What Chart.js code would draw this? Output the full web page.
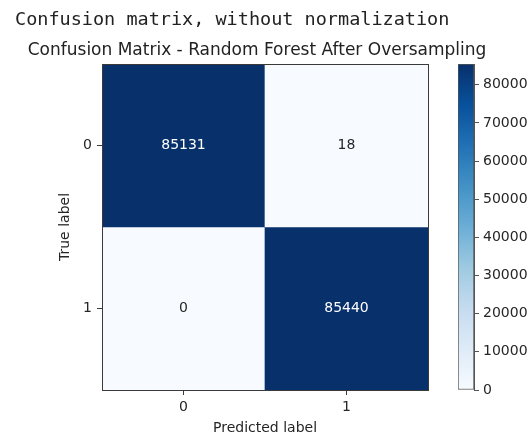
<!DOCTYPE html>
<html>
<head>
<meta charset="utf-8">
<title>Confusion Matrix - Random Forest After Oversampling</title>
<script src="https://cdn.jsdelivr.net/npm/chart.js@4.4.0/dist/chart.umd.min.js"></script>
<style>
  html, body { margin: 0; padding: 0; background: #fff; }
  #page { position: relative; width: 530px; height: 437px; overflow: hidden; }
  #header { position: absolute; left: 15px; top: 8px; font: 18.5px/22px 'DejaVu Sans Mono', monospace; color: #222; white-space: pre; }
  #cm { position: absolute; left: 0; top: 0; }
  #cbar { position: absolute; left: 440px; top: 0; }
</style>
</head>
<body>
<div id="page">
  <canvas id="cm" width="530" height="437"></canvas>
  <canvas id="cbar" width="90" height="437"></canvas>
  <div id="header">Confusion matrix, without normalization</div>
</div>
<script>
// rows = true label, columns = predicted label
var xLabels = ['0', '1'];
var yLabels = ['0', '1'];
var row0 = [85131, 18];
var row1 = [0, 85440];
var cbTicks = [0, 10000, 20000, 30000, 40000, 50000, 60000, 70000, 80000];

// matplotlib "Blues"
var bluesStops = ['#f7fbff', '#deebf7', '#c6dbef', '#9ecae1', '#6baed6', '#4292c6', '#2171b5', '#08519c', '#08306b'];

function hexRgb(h){
	return [parseInt(h.substr(1,2),16), parseInt(h.substr(3,2),16), parseInt(h.substr(5,2),16)];
}
function blues(t){
	t = Math.max(0, Math.min(1, t));
	var pos = t * (bluesStops.length - 1);
	var i = Math.min(Math.floor(pos), bluesStops.length - 2);
	var f = pos - i;
	var a = hexRgb(bluesStops[i]), b = hexRgb(bluesStops[i+1]);
	var c = a.map(function(v, k){ return Math.round(v + (b[k] - v) * f); });
	return 'rgb(' + c.join(',') + ')';
}

var rows = [row0, row1];
var vmax = Math.max.apply(null, row0.concat(row1));
var txt = '#262626';
var axisCol = '#3a3a3a';

Chart.defaults.font.family = "'DejaVu Sans', sans-serif";
Chart.defaults.font.size = 14;
Chart.defaults.color = txt;

var datasets = rows.map(function(row, r){
	return {
		data: row.map(function(v, c){ return {x: xLabels[c], y: [r - 0.5, r + 0.5], v: v}; }),
		backgroundColor: row.map(function(v){ return blues(v / vmax); }),
		borderWidth: 0,
		grouped: false,
		barPercentage: 1,
		categoryPercentage: 1
	};
});

// value written in the middle of each cell
var cellText = {
	id: 'cellText',
	afterDatasetsDraw: function(chart){
		var ctx = chart.ctx;
		ctx.save();
		ctx.font = "14px 'DejaVu Sans'";
		ctx.textAlign = 'center';
		ctx.textBaseline = 'middle';
		chart.data.datasets.forEach(function(ds, i){
			chart.getDatasetMeta(i).data.forEach(function(bar, j){
				var v = ds.data[j].v;
				var p = bar.getCenterPoint();
				ctx.fillStyle = v > vmax / 2 ? '#ffffff' : txt;
				ctx.fillText(String(v), p.x, p.y);
			});
		});
		ctx.restore();
	}
};

var frame = { color: axisCol, z: 1 };

new Chart(document.getElementById('cm'), {
	type: 'bar',
	data: { labels: xLabels, datasets: datasets },
	plugins: [cellText],
	options: {
		responsive: false,
		animation: false,
		layout: { padding: { left: 0, right: 16, top: 0, bottom: 0 } },
		plugins: {
			legend: { display: false },
			tooltip: { enabled: false },
			title: {
				display: true,
				text: 'Confusion Matrix - Random Forest After Oversampling',
				font: { size: 17, weight: 'normal' },
				color: '#222',
				padding: { top: 40, bottom: 2.6 }
			}
		},
		scales: {
			x: {
				type: 'category', position: 'bottom', offset: true,
				grid: { offset: false, drawOnChartArea: false, tickLength: 5, color: axisCol },
				border: frame,
				ticks: { padding: 4, maxRotation: 0 },
				title: { display: true, text: 'Predicted label', padding: 0 },
				afterFit: function(s){ s.height = 47; }
			},
			x2: {
				type: 'category', position: 'top', offset: true,
				grid: { display: false },
				ticks: { display: false },
				border: frame,
				afterFit: function(s){ s.height = 1; }
			},
			y: {
				type: 'linear', position: 'left', min: -0.5, max: 1.5, reverse: true,
				afterBuildTicks: function(s){ s.ticks = yLabels.map(function(l, i){ return { value: i }; }); },
				ticks: { padding: 5, callback: function(v){ return yLabels[v]; } },
				grid: { drawOnChartArea: false, tickLength: 5, color: axisCol },
				border: frame,
				title: { display: true, text: 'True label', padding: { top: 57, bottom: 0 } },
				afterFit: function(s){ s.width = 102; }
			},
			y2: {
				type: 'linear', position: 'right', min: 0, max: 1,
				grid: { display: false },
				ticks: { display: false },
				border: frame,
				afterFit: function(s){ s.width = 86; }
			}
		}
	}
});

// colour bar
new Chart(document.getElementById('cbar'), {
	type: 'bar',
	data: {
		labels: ['cb'],
		datasets: [{
			data: [[0, vmax]],
			backgroundColor: function(c){
				var a = c.chart.chartArea;
				if (!a) return blues(0.5);
				var g = c.chart.ctx.createLinearGradient(0, a.bottom, 0, a.top);
				bluesStops.forEach(function(col, i){ g.addColorStop(i / (bluesStops.length - 1), col); });
				return g;
			},
			borderColor: '#555',
			borderWidth: 1,
			borderSkipped: false,
			barPercentage: 1,
			categoryPercentage: 1
		}]
	},
	options: {
		responsive: false,
		animation: false,
		layout: { padding: { left: 18, right: 0, top: 64, bottom: 47 } },
		plugins: { legend: { display: false }, tooltip: { enabled: false } },
		scales: {
			x: { display: false, offset: true },
			y: {
				position: 'right', min: 0, max: vmax,
				afterBuildTicks: function(s){ s.ticks = cbTicks.map(function(v){ return { value: v }; }); },
				ticks: { padding: 4, callback: function(v){ return String(v); } },
				grid: { drawOnChartArea: false, tickLength: 5, color: '#555' },
				border: { color: '#555', z: 1 },
				afterFit: function(s){ s.width = 56; }
			}
		}
	}
});
</script>
</body>
</html>
